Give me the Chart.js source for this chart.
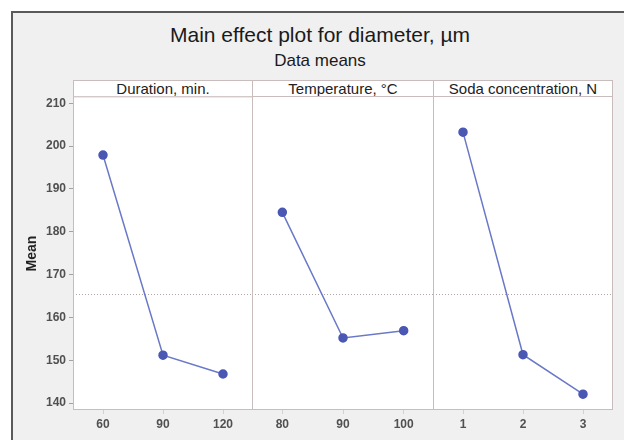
<!DOCTYPE html>
<html>
<head>
<meta charset="utf-8">
<script src="https://cdn.jsdelivr.net/npm/chart.js@4"></script>
<style>
  body { margin: 0; width: 624px; height: 440px; overflow: hidden; background: #fff; font-family: "Liberation Sans", Arial, sans-serif; position: relative; }
  .frame { position: absolute; left: 11px; top: 11px; width: 700px; height: 500px; border-left: 2px solid #5a5a5a; border-top: 2px solid #5a5a5a; background: #f0f0f0; }
  .title { position: absolute; left: 12px; width: 616px; text-align: center; color: #1a1a1a; }
  .head { position: absolute; top: 80px; height: 16px; line-height: 16px; background: #fff; border: 1px solid #c8bcbc; text-align: center; font-size: 15px; color: #222; box-sizing: content-box; white-space: nowrap; }
  .box { position: absolute; top: 87px; height: 353px; }
</style>
</head>
<body>
<div class="frame"></div>
<div class="title" style="top:23px; font-size:21px; line-height:24px;">Main effect plot for diameter, µm</div>
<div class="title" style="top:51px; font-size:17px; line-height:20px;">Data means</div>
<div class="head" style="left:73px; width:178px;">Duration, min.</div>
<div class="head" style="left:252px; width:180px;">Temperature, °C</div>
<div class="head" style="left:433px; width:178px;">Soda concentration, N</div>
<div class="box" style="left:12px; width:241px;"><canvas id="duration"></canvas></div>
<div class="box" style="left:252px; width:182px;"><canvas id="temperature"></canvas></div>
<div class="box" style="left:433px; width:180px;"><canvas id="soda"></canvas></div>
<script>
const durationLabels = ["60", "90", "120"];
const durationMeans = [197.9, 151.2, 146.8];
const temperatureLabels = ["80", "90", "100"];
const temperatureMeans = [184.5, 155.2, 156.9];
const sodaLabels = ["1", "2", "3"];
const sodaMeans = [203.2, 151.3, 142.1];
const yTicks = [140, 150, 160, 170, 180, 190, 200, 210];
const grandMean = 165.5;
const yMin = 138.4;
const yMax = 211.4;

Chart.defaults.font.family = "'Liberation Sans', Arial, sans-serif";

// white plot area, dotted grand-mean line and panel border
const panel = {
  id: "panel",
  beforeDraw(chart) {
    const { ctx, chartArea: a } = chart;
    ctx.save();
    ctx.fillStyle = "#fff";
    ctx.fillRect(a.left, a.top, a.right - a.left, a.bottom - a.top);
    ctx.restore();
  },
  beforeDatasetsDraw(chart) {
    const { ctx, chartArea: a, scales } = chart;
    const y = Math.round(scales.y.getPixelForValue(grandMean)) + 0.5;
    ctx.save();
    ctx.strokeStyle = "#b0a4a4";
    ctx.lineWidth = 1;
    ctx.setLineDash([1, 2]);
    ctx.beginPath();
    ctx.moveTo(a.left, y);
    ctx.lineTo(a.right, y);
    ctx.stroke();
    ctx.setLineDash([]);
    ctx.strokeStyle = "#c8bcbc";
    ctx.strokeRect(a.left + 0.5, a.top - 0.5, a.right - a.left - 1, a.bottom - a.top);
    ctx.restore();
  },
};

function makePanel(id, labels, values, showY) {
  return new Chart(document.getElementById(id).getContext("2d"), {
    type: "line",
    data: {
      labels: labels,
      datasets: [
        {
          data: values,
          borderColor: "#6a78c8",
          borderWidth: 1.5,
          backgroundColor: "#4a58b4",
          pointBackgroundColor: "#4a58b4",
          pointBorderColor: "#4a58b4",
          pointRadius: 4,
          tension: 0,
        },
      ],
    },
    options: {
      responsive: true,
      maintainAspectRatio: false,
      animation: false,
      layout: { autoPadding: false, padding: { top: 10, right: 0, bottom: 0, left: 0 } },
      plugins: { legend: { display: false }, tooltip: { enabled: false } },
      scales: {
        x: {
          type: "category",
          offset: true,
          border: { display: false },
          grid: { drawOnChartArea: false, drawTicks: true, tickLength: 4, color: "#d8d0d0" },
          ticks: { color: "#505050", font: { size: 12, weight: "bold" }, padding: 3, maxRotation: 0 },
          afterFit: (s) => {
            s.height = 30;
            s.paddingLeft = 0;
            s.paddingRight = 0;
          },
        },
        y: {
          display: showY,
          min: yMin,
          max: yMax,
          border: { display: false },
          grid: { drawOnChartArea: false, drawTicks: true, tickLength: 4, color: "#a8a0a0" },
          ticks: { color: "#505050", font: { size: 12, weight: "bold" }, padding: 3 },
          afterBuildTicks: (s) => { s.ticks = yTicks.map((v) => ({ value: v })); },
          afterFit: (s) => { s.width = showY ? 61 : 0; },
          title: {
            display: showY,
            text: "Mean",
            color: "#222",
            font: { size: 14, weight: "bold" },
            padding: { top: 12, bottom: 0 },
          },
        },
      },
    },
    plugins: [panel],
  });
}

makePanel("duration", durationLabels, durationMeans, true);
makePanel("temperature", temperatureLabels, temperatureMeans, false);
makePanel("soda", sodaLabels, sodaMeans, false);
</script>
</body>
</html>
